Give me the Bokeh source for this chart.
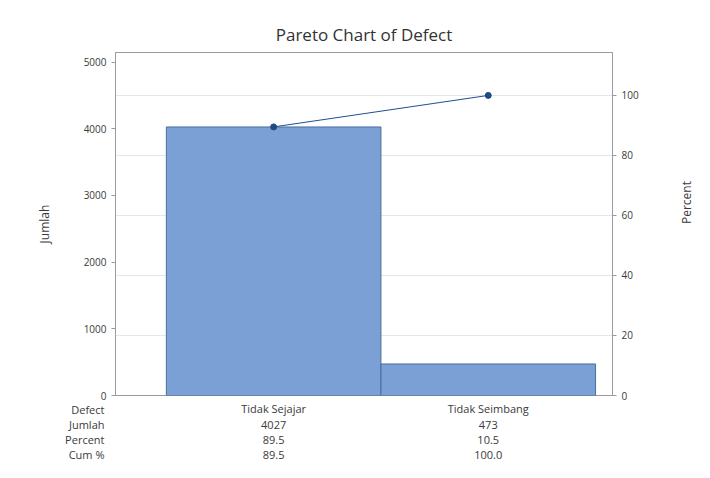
import math
from bokeh.plotting import figure
from bokeh.models import Range1d, LinearAxis, FixedTicker, Grid
from bokeh.layouts import column
from bokeh.core.properties import value
from bokeh.embed import file_html
from bokeh.resources import INLINE

categories = ["Tidak Sejajar", "Tidak Seimbang"]
counts = [4027, 473]
percent = [89.5, 10.5]
cum_percent = [89.5, 100.0]
row_labels = ["Defect", "Jumlah", "Percent", "Cum %"]
count_labels = ["4027", "473"]
percent_labels = ["89.5", "10.5"]
cum_labels = ["89.5", "100.0"]
left_ticks = [0, 1000, 2000, 3000, 4000, 5000]
right_ticks = [0, 20, 40, 60, 80, 100]

total = sum(counts)
pct_max = 114.3
FONT = "Open Sans"
TXT = "#3a3a3a"
X0, X1 = -0.737, 1.579
W = 708
RB = W - 612

p = figure(width=W, height=401, output_backend="svg", toolbar_location=None,
           x_range=Range1d(X0, X1), y_range=Range1d(0, total * pct_max / 100),
           x_axis_location=None, y_axis_location="left",
           min_border_left=115, min_border_right=RB, min_border_top=52, min_border_bottom=6)
p.background_fill_color = "white"
p.border_fill_color = "white"
p.outline_line_color = "#9a9a9a"
p.xgrid.visible = False
p.ygrid.visible = False

p.title.text = "Pareto Chart of Defect"
p.title.align = "center"
p.title.text_font = FONT
p.title.text_font_size = "17px"
p.title.text_font_style = "normal"
p.title.text_color = "#333333"
p.title.offset = 0
p.title.standoff = 14

p.extra_y_ranges = {"pct": Range1d(0, pct_max)}

ly = p.yaxis[0]
ly.ticker = FixedTicker(ticks=left_ticks)
ly.axis_label = "Jumlah"

ry = LinearAxis(y_range_name="pct", ticker=FixedTicker(ticks=right_ticks), axis_label="Percent")
p.add_layout(ry, "right")

for ax in [ly, ry]:
    ax.axis_line_color = "#9a9a9a"
    ax.major_tick_line_color = "#9a9a9a"
    ax.minor_tick_line_color = None
    ax.major_tick_out = 4
    ax.major_tick_in = 0
    ax.major_label_text_font = FONT
    ax.major_label_text_font_size = "10px"
    ax.major_label_text_color = TXT
    ax.axis_label_text_font = FONT
    ax.axis_label_text_font_size = "12px"
    ax.axis_label_text_font_style = "normal"
    ax.axis_label_text_color = TXT
ly.axis_label_standoff = 28
ry.axis_label_standoff = 45
ry.axis_label_orientation = math.pi / 2

g = Grid(dimension=1, ticker=FixedTicker(ticks=right_ticks), y_range_name="pct",
         grid_line_color="#e6e6e6", grid_line_width=1)
p.add_layout(g)

xs = list(range(len(categories)))
p.vbar(x=xs, top=counts, width=1.0, fill_color="#7aa0d5", line_color="#4a6f9e", line_width=1)
p.line(x=xs, y=cum_percent, y_range_name="pct", line_color="#1f4f8f", line_width=1)
p.scatter(x=xs, y=cum_percent, y_range_name="pct", size=6, fill_color="#1f4a85", line_color="#1f4a85")

# table below the chart (row labels are the left axis tick labels)
row_y = [7, 23, 38, 53]
t = figure(width=W, height=69, output_backend="svg", toolbar_location=None,
           x_range=Range1d(X0, X1), y_range=Range1d(69, 0),
           x_axis_location=None, y_axis_location="left",
           min_border_left=115, min_border_right=RB, min_border_top=0, min_border_bottom=0)
t.outline_line_color = None
t.xgrid.visible = False
t.ygrid.visible = False
t.background_fill_color = "white"
t.border_fill_color = "white"
ta = t.yaxis[0]
ta.ticker = FixedTicker(ticks=row_y)
ta.major_label_overrides = {yy: lab for yy, lab in zip(row_y, row_labels)}
ta.axis_line_color = None
ta.major_tick_line_color = None
ta.minor_tick_line_color = None
ta.major_tick_out = 0
ta.major_tick_in = 0
ta.major_label_standoff = 11
ta.major_label_text_font = FONT
ta.major_label_text_font_size = "11px"
ta.major_label_text_color = TXT

rows = [categories, count_labels, percent_labels, cum_labels]
for vals, yy in zip(rows, row_y):
    t.text(x=xs, y=[yy] * len(xs), text=vals, text_align="center", text_baseline="middle",
           text_font=value(FONT), text_font_size="11px", text_color=TXT)

layout = column(p, t, spacing=0)
open("out.html", "w").write(file_html(layout, INLINE))
